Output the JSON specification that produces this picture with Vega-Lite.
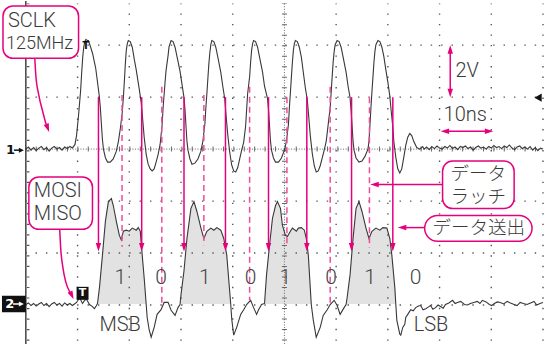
{
"$schema":"https://vega.github.io/schema/vega-lite/v6.json",
"width":546,"height":347,"padding":0,
"autosize":{"type":"fit","contains":"padding"},
"background":"white",
"config":{"view":{"stroke":null}},
"datasets":{
"ch1":[
{"t":-50.0,"d":0.00},{"t":-49.5,"d":0.04},{"t":-49.0,"d":-0.02},{"t":-48.5,"d":0.03},{"t":-48.0,"d":-0.03},{"t":-47.5,"d":0.02},{"t":-47.0,"d":0.05},{"t":-46.5,"d":-0.01},{"t":-46.0,"d":0.03},{"t":-45.5,"d":-0.04},{"t":-45.0,"d":0.02},{"t":-44.5,"d":0.05},{"t":-44.0,"d":0.00},{"t":-43.5,"d":0.03},{"t":-43.0,"d":-0.02},{"t":-42.5,"d":0.04},{"t":-42.0,"d":0.01},{"t":-41.5,"d":0.05},{"t":-41.0,"d":0.02},{"t":-40.5,"d":0.09},
{"t":-40.2,"d":0.26},{"t":-39.8,"d":0.66},{"t":-39.4,"d":1.14},{"t":-39.2,"d":1.48},{"t":-39.0,"d":1.77},{"t":-38.8,"d":1.97},{"t":-38.6,"d":2.07},{"t":-38.4,"d":2.11},{"t":-38.1,"d":2.09},
{"t":-37.9,"d":2.09},{"t":-37.5,"d":1.97},{"t":-37.1,"d":1.84},{"t":-36.5,"d":1.56},{"t":-36.2,"d":1.33},{"t":-35.8,"d":1.02},{"t":-35.6,"d":0.80},{"t":-35.4,"d":0.49},{"t":-35.2,"d":0.19},{"t":-35.0,"d":0.00},{"t":-34.6,"d":-0.17},{"t":-34.2,"d":-0.25},{"t":-33.7,"d":-0.25},{"t":-33.1,"d":-0.19},{"t":-32.5,"d":-0.04},
{"t":-32.1,"d":0.15},{"t":-31.7,"d":0.42},{"t":-31.35,"d":0.72},{"t":-31.15,"d":0.99},{"t":-30.96,"d":1.29},{"t":-30.77,"d":1.63},{"t":-30.58,"d":1.90},{"t":-30.38,"d":2.03},{"t":-30.19,"d":2.09},
{"t":-29.81,"d":2.07},{"t":-29.42,"d":1.96},{"t":-29.04,"d":1.73},{"t":-28.65,"d":1.52},{"t":-28.08,"d":1.16},{"t":-27.69,"d":0.89},{"t":-27.5,"d":0.68},{"t":-27.12,"d":0.23},{"t":-26.73,"d":-0.10},{"t":-26.35,"d":-0.29},{"t":-25.96,"d":-0.38},{"t":-25.58,"d":-0.42},{"t":-25.19,"d":-0.38},{"t":-24.81,"d":-0.25},{"t":-24.42,"d":-0.10},
{"t":-24.04,"d":0.09},{"t":-23.65,"d":0.47},{"t":-23.46,"d":0.80},{"t":-23.27,"d":1.04},{"t":-23.08,"d":1.29},{"t":-22.88,"d":1.52},{"t":-22.5,"d":1.80},{"t":-22.31,"d":1.97},{"t":-21.92,"d":2.09},
{"t":-21.54,"d":2.07},{"t":-21.15,"d":1.96},{"t":-20.77,"d":1.78},{"t":-20.19,"d":1.50},{"t":-19.81,"d":1.25},{"t":-19.42,"d":0.99},{"t":-19.23,"d":0.76},{"t":-19.04,"d":0.45},{"t":-18.85,"d":0.15},{"t":-18.65,"d":-0.02},{"t":-18.27,"d":-0.19},{"t":-17.88,"d":-0.29},{"t":-17.31,"d":-0.27},{"t":-16.73,"d":-0.19},{"t":-16.15,"d":-0.04},
{"t":-15.77,"d":0.15},{"t":-15.38,"d":0.49},{"t":-15.19,"d":0.80},{"t":-15.0,"d":1.06},{"t":-14.81,"d":1.35},{"t":-14.62,"d":1.63},{"t":-14.42,"d":1.86},{"t":-14.23,"d":2.01},{"t":-14.04,"d":2.09},
{"t":-13.65,"d":2.07},{"t":-13.27,"d":1.96},{"t":-12.88,"d":1.77},{"t":-12.31,"d":1.48},{"t":-11.92,"d":1.21},{"t":-11.54,"d":0.97},{"t":-11.35,"d":0.72},{"t":-10.96,"d":0.28},{"t":-10.58,"d":-0.06},{"t":-10.19,"d":-0.31},{"t":-9.81,"d":-0.42},{"t":-9.42,"d":-0.44},{"t":-9.04,"d":-0.36},{"t":-8.65,"d":-0.19},{"t":-8.27,"d":-0.02},
{"t":-7.88,"d":0.13},{"t":-7.5,"d":0.45},{"t":-7.31,"d":0.76},{"t":-7.12,"d":1.06},{"t":-6.73,"d":1.39},{"t":-6.54,"d":1.67},{"t":-6.35,"d":1.90},{"t":-6.15,"d":2.03},{"t":-5.96,"d":2.09},
{"t":-5.58,"d":2.07},{"t":-5.19,"d":1.96},{"t":-4.81,"d":1.77},{"t":-4.23,"d":1.48},{"t":-3.85,"d":1.21},{"t":-3.27,"d":0.97},{"t":-3.08,"d":0.76},{"t":-2.88,"d":0.45},{"t":-2.69,"d":0.15},{"t":-2.5,"d":-0.02},{"t":-2.12,"d":-0.17},{"t":-1.73,"d":-0.25},{"t":-1.15,"d":-0.25},{"t":-0.58,"d":-0.17},{"t":0.0,"d":-0.02},
{"t":0.38,"d":0.15},{"t":0.77,"d":0.47},{"t":0.96,"d":0.80},{"t":1.15,"d":1.08},{"t":1.35,"d":1.39},{"t":1.54,"d":1.67},{"t":1.73,"d":1.90},{"t":1.92,"d":2.03},{"t":2.12,"d":2.09},
{"t":2.5,"d":2.07},{"t":2.88,"d":1.96},{"t":3.27,"d":1.77},{"t":3.65,"d":1.48},{"t":4.04,"d":1.18},{"t":4.42,"d":0.95},{"t":4.62,"d":0.72},{"t":5.0,"d":0.26},{"t":5.38,"d":-0.08},{"t":5.77,"d":-0.32},{"t":6.15,"d":-0.44},{"t":6.54,"d":-0.42},{"t":6.92,"d":-0.32},{"t":7.31,"d":-0.17},{"t":7.69,"d":-0.02},
{"t":8.08,"d":0.15},{"t":8.46,"d":0.47},{"t":8.85,"d":0.80},{"t":9.04,"d":1.10},{"t":9.23,"d":1.39},{"t":9.42,"d":1.67},{"t":9.62,"d":1.88},{"t":9.81,"d":2.01},{"t":10.19,"d":2.09},
{"t":10.58,"d":2.07},{"t":10.96,"d":1.96},{"t":11.35,"d":1.77},{"t":11.92,"d":1.48},{"t":12.31,"d":1.21},{"t":12.69,"d":0.99},{"t":12.88,"d":0.76},{"t":13.08,"d":0.45},{"t":13.27,"d":0.15},{"t":13.46,"d":-0.02},{"t":13.85,"d":-0.17},{"t":14.42,"d":-0.25},{"t":15.0,"d":-0.23},{"t":15.58,"d":-0.14},{"t":16.15,"d":0.0},
{"t":16.35,"d":0.15},{"t":16.54,"d":0.47},{"t":16.73,"d":0.80},{"t":16.92,"d":1.10},{"t":17.12,"d":1.39},{"t":17.31,"d":1.67},{"t":17.5,"d":1.88},{"t":17.69,"d":2.01},{"t":18.08,"d":2.09},
{"t":18.46,"d":2.07},{"t":18.85,"d":1.96},{"t":19.23,"d":1.78},{"t":19.62,"d":1.52},{"t":20.0,"d":1.29},{"t":20.38,"d":1.02},{"t":20.58,"d":0.80},{"t":20.96,"d":0.42},{"t":21.15,"d":0.15},{"t":21.54,"d":-0.16},{"t":21.92,"d":-0.38},{"t":22.31,"d":-0.46},{"t":22.69,"d":-0.38},{"t":23.08,"d":-0.16},{"t":23.46,"d":0.07},{"t":23.85,"d":0.23},{"t":24.23,"d":0.30},{"t":24.62,"d":0.26},{"t":25.0,"d":0.15},{"t":25.58,"d":0.03},{"t":26.15,"d":0.0},{"t":26.73,"d":0.05},
{"t":27.0,"d":0.00},{"t":27.5,"d":0.04},{"t":28.0,"d":-0.01},{"t":28.5,"d":0.05},{"t":29.0,"d":0.01},{"t":29.5,"d":0.06},{"t":30.0,"d":0.02},{"t":30.5,"d":0.00},{"t":31.0,"d":0.05},{"t":31.5,"d":0.02},{"t":32.0,"d":0.07},{"t":32.5,"d":0.01},{"t":33.0,"d":0.04},{"t":33.5,"d":-0.01},{"t":34.0,"d":0.05},{"t":34.5,"d":0.03},{"t":35.0,"d":0.06},{"t":35.5,"d":0.01},{"t":36.0,"d":0.04},{"t":36.5,"d":-0.02},{"t":37.0,"d":0.03},{"t":37.5,"d":0.06},{"t":38.0,"d":0.02},{"t":38.5,"d":0.04},{"t":39.0,"d":0.00},{"t":39.5,"d":0.05},{"t":40.0,"d":0.02},{"t":40.5,"d":0.07},{"t":41.0,"d":0.03},{"t":41.5,"d":0.05},{"t":42.0,"d":0.01},{"t":42.5,"d":0.06},{"t":43.0,"d":0.03},{"t":43.5,"d":0.08},{"t":44.0,"d":0.02},{"t":44.5,"d":-0.01},{"t":45.0,"d":0.04},{"t":45.5,"d":0.06},{"t":46.0,"d":0.01},{"t":46.5,"d":0.04},{"t":47.0,"d":0.00},{"t":47.5,"d":0.05},{"t":48.0,"d":-0.02},{"t":48.5,"d":0.03},{"t":49.0,"d":-0.03},{"t":49.5,"d":0.02},{"t":50.0,"d":0.00}
],
"ch2":[
{"t":-50.0,"d":-2.99,"s":0},{"t":-49.5,"d":-2.96,"s":0},{"t":-49.0,"d":-3.01,"s":0},{"t":-48.5,"d":-2.97,"s":0},{"t":-48.0,"d":-3.02,"s":0},{"t":-47.5,"d":-2.98,"s":0},{"t":-47.0,"d":-2.95,"s":0},{"t":-46.5,"d":-3.01,"s":0},{"t":-46.0,"d":-2.97,"s":0},{"t":-45.5,"d":-3.03,"s":0},{"t":-45.0,"d":-2.98,"s":0},{"t":-44.5,"d":-2.95,"s":0},{"t":-44.0,"d":-3.00,"s":0},{"t":-43.5,"d":-2.97,"s":0},{"t":-43.0,"d":-3.02,"s":0},{"t":-42.5,"d":-2.96,"s":0},{"t":-42.0,"d":-3.00,"s":0},{"t":-41.5,"d":-2.97,"s":0},{"t":-41.0,"d":-3.01,"s":0},{"t":-40.6,"d":-2.98,"s":0},
{"t":-40.19,"d":-2.95,"s":0},{"t":-39.62,"d":-2.86,"s":0},{"t":-39.04,"d":-2.97,"s":0},{"t":-38.65,"d":-2.91,"s":0},{"t":-38.27,"d":-2.89,"s":0},{"t":-37.69,"d":-2.99,"s":0},{"t":-37.12,"d":-3.03,"s":0},{"t":-36.73,"d":-3.07,"s":0},{"t":-36.4,"d":-3.02,"s":0},
{"t":-36.15,"d":-2.97,"s":1},{"t":-35.77,"d":-2.67,"s":1},{"t":-35.19,"d":-2.04,"s":1},{"t":-34.62,"d":-1.39,"s":1},{"t":-34.04,"d":-1.01,"s":1},{"t":-33.46,"d":-0.95,"s":1},{"t":-33.08,"d":-1.09,"s":1},{"t":-32.5,"d":-1.39,"s":1},{"t":-31.92,"d":-1.66,"s":1},{"t":-31.54,"d":-1.75,"s":1},{"t":-31.15,"d":-1.58,"s":1},{"t":-30.58,"d":-1.56,"s":1},{"t":-30.0,"d":-1.58,"s":1},{"t":-29.42,"d":-1.52,"s":1},{"t":-28.65,"d":-1.56,"s":1},{"t":-28.27,"d":-1.51,"s":1},{"t":-27.88,"d":-1.58,"s":1},{"t":-27.5,"d":-2.04,"s":1},{"t":-27.12,"d":-2.48,"s":1},{"t":-26.73,"d":-2.99,"s":1},
{"t":-26.54,"d":-3.24,"s":0},{"t":-26.15,"d":-3.48,"s":0},{"t":-25.77,"d":-3.62,"s":0},{"t":-25.19,"d":-3.43,"s":0},{"t":-24.62,"d":-3.18,"s":0},{"t":-23.85,"d":-3.09,"s":0},{"t":-23.27,"d":-2.95,"s":0},{"t":-22.5,"d":-2.95,"s":0},{"t":-21.92,"d":-3.10,"s":0},{"t":-21.15,"d":-3.20,"s":0},{"t":-20.58,"d":-3.05,"s":0},
{"t":-20.19,"d":-2.99,"s":2},{"t":-20.0,"d":-2.80,"s":2},{"t":-19.42,"d":-2.34,"s":2},{"t":-18.85,"d":-1.72,"s":2},{"t":-18.08,"d":-1.14,"s":2},{"t":-17.5,"d":-1.01,"s":2},{"t":-16.92,"d":-1.20,"s":2},{"t":-16.15,"d":-1.52,"s":2},{"t":-15.58,"d":-1.72,"s":2},{"t":-15.0,"d":-1.58,"s":2},{"t":-14.23,"d":-1.52,"s":2},{"t":-13.65,"d":-1.56,"s":2},{"t":-13.08,"d":-1.51,"s":2},{"t":-12.31,"d":-1.56,"s":2},{"t":-11.73,"d":-1.72,"s":2},{"t":-11.15,"d":-2.04,"s":2},{"t":-10.77,"d":-2.51,"s":2},{"t":-10.38,"d":-2.99,"s":2},
{"t":-10.19,"d":-3.27,"s":0},{"t":-9.81,"d":-3.58,"s":0},{"t":-9.23,"d":-3.43,"s":0},{"t":-8.46,"d":-3.18,"s":0},{"t":-7.88,"d":-3.09,"s":0},{"t":-7.31,"d":-2.99,"s":0},{"t":-6.54,"d":-2.91,"s":0},{"t":-5.96,"d":-3.05,"s":0},{"t":-5.38,"d":-3.18,"s":0},{"t":-5.0,"d":-3.09,"s":0},{"t":-4.42,"d":-2.99,"s":0},
{"t":-3.85,"d":-2.97,"s":3},{"t":-3.46,"d":-2.42,"s":3},{"t":-2.88,"d":-1.85,"s":3},{"t":-2.31,"d":-1.33,"s":3},{"t":-1.73,"d":-1.09,"s":3},{"t":-1.35,"d":-1.01,"s":3},{"t":-0.77,"d":-1.14,"s":3},{"t":-0.38,"d":-1.47,"s":3},{"t":0.19,"d":-1.66,"s":3},{"t":0.58,"d":-1.68,"s":3},{"t":1.15,"d":-1.58,"s":3},{"t":1.54,"d":-1.52,"s":3},{"t":2.31,"d":-1.58,"s":3},{"t":2.69,"d":-1.52,"s":3},{"t":3.27,"d":-1.51,"s":3},{"t":3.85,"d":-1.56,"s":3},{"t":4.23,"d":-1.72,"s":3},{"t":4.62,"d":-2.04,"s":3},{"t":5.0,"d":-2.67,"s":3},{"t":5.19,"d":-2.99,"s":3},
{"t":5.58,"d":-3.29,"s":0},{"t":6.15,"d":-3.62,"s":0},{"t":6.92,"d":-3.43,"s":0},{"t":7.5,"d":-3.20,"s":0},{"t":8.27,"d":-3.09,"s":0},{"t":8.85,"d":-2.99,"s":0},{"t":9.62,"d":-2.91,"s":0},{"t":10.19,"d":-3.01,"s":0},{"t":10.77,"d":-3.18,"s":0},{"t":11.54,"d":-3.05,"s":0},
{"t":11.92,"d":-2.99,"s":4},{"t":12.12,"d":-2.86,"s":4},{"t":12.69,"d":-2.42,"s":4},{"t":13.27,"d":-1.72,"s":4},{"t":13.85,"d":-1.14,"s":4},{"t":14.42,"d":-1.01,"s":4},{"t":15.0,"d":-1.20,"s":4},{"t":15.77,"d":-1.52,"s":4},{"t":16.35,"d":-1.72,"s":4},{"t":16.92,"d":-1.58,"s":4},{"t":17.69,"d":-1.52,"s":4},{"t":18.46,"d":-1.56,"s":4},{"t":19.04,"d":-1.51,"s":4},{"t":19.81,"d":-1.52,"s":4},{"t":20.38,"d":-1.72,"s":4},{"t":20.77,"d":-2.04,"s":4},{"t":21.35,"d":-2.67,"s":4},{"t":21.54,"d":-2.99,"s":4},
{"t":21.73,"d":-3.29,"s":0},{"t":22.31,"d":-3.56,"s":0},{"t":22.5,"d":-3.58,"s":0},{"t":22.88,"d":-3.43,"s":0},{"t":23.27,"d":-3.37,"s":0},{"t":23.46,"d":-3.24,"s":0},{"t":23.85,"d":-3.18,"s":0},{"t":24.42,"d":-3.09,"s":0},{"t":24.9,"d":-3.11,"s":0},{"t":25.38,"d":-3.05,"s":0},{"t":25.9,"d":-3.02,"s":0},{"t":26.35,"d":-3.01,"s":0},{"t":26.8,"d":-3.09,"s":0},{"t":27.31,"d":-3.07,"s":0},{"t":27.8,"d":-3.04,"s":0},{"t":28.27,"d":-3.01,"s":0},{"t":28.7,"d":-3.08,"s":0},{"t":29.23,"d":-3.05,"s":0},{"t":29.7,"d":-3.00,"s":0},{"t":30.19,"d":-3.03,"s":0},{"t":30.7,"d":-3.06,"s":0},{"t":31.15,"d":-2.99,"s":0},{"t":31.8,"d":-2.96,"s":0},{"t":32.5,"d":-2.91,"s":0},{"t":33.0,"d":-2.97,"s":0},{"t":33.46,"d":-2.95,"s":0},{"t":34.1,"d":-2.93,"s":0},{"t":34.81,"d":-2.99,"s":0},{"t":35.4,"d":-3.00,"s":0},{"t":35.96,"d":-2.97,"s":0},{"t":36.6,"d":-2.95,"s":0},{"t":37.31,"d":-2.93,"s":0},{"t":37.8,"d":-2.97,"s":0},{"t":38.27,"d":-2.91,"s":0},{"t":39.0,"d":-2.94,"s":0},{"t":39.62,"d":-2.99,"s":0},{"t":40.1,"d":-3.01,"s":0},{"t":40.58,"d":-2.97,"s":0},{"t":41.2,"d":-2.94,"s":0},{"t":41.73,"d":-2.95,"s":0},{"t":42.4,"d":-2.98,"s":0},{"t":43.08,"d":-2.93,"s":0},{"t":43.7,"d":-2.96,"s":0},{"t":44.42,"d":-2.99,"s":0},{"t":45.0,"d":-3.01,"s":0},{"t":45.58,"d":-2.95,"s":0},{"t":46.2,"d":-2.97,"s":0},{"t":46.92,"d":-2.99,"s":0},{"t":47.6,"d":-2.96,"s":0},{"t":48.27,"d":-2.93,"s":0},{"t":48.8,"d":-3.00,"s":0},{"t":49.42,"d":-2.97,"s":0},{"t":50.0,"d":-2.95,"s":0}
],
"vg":[{"t":-40},{"t":-30},{"t":-20},{"t":-10},{"t":10},{"t":20},{"t":30},{"t":40},{"t":50}],
"hg":[{"d":2},{"d":1},{"d":-1},{"d":-2},{"d":-3}],
"solid":[{"t":-35.96},{"t":-27.6},{"t":-19.42},{"t":-11.4},{"t":-3.08},{"t":4.33},{"t":12.98},{"t":20.96}],
"dash":[{"t":-31.4,"d1":1.04,"d2":-1.88},{"t":-23.71,"d1":1.2,"d2":-3.05},{"t":-15.58,"d1":1.04,"d2":-1.85},{"t":-6.73,"d1":1.2,"d2":-2.91},{"t":0.48,"d1":1.0,"d2":-1.88},{"t":8.85,"d1":1.2,"d2":-2.99},{"t":16.44,"d1":1.0,"d2":-1.9}],
"shaft":[{"t1":32.06,"d1":1.86,"t2":32.06,"d2":1.14},{"t1":31.6,"d1":0.345,"t2":39.0,"d2":0.345},{"t1":30.58,"d1":-0.68,"t2":18.0,"d2":-0.68},{"t1":27.12,"d1":-1.51,"t2":23.3,"d2":-1.51}],
"head":[{"t":-35.96,"d":-1.97,"dir":"down"},{"t":-27.6,"d":-1.97,"dir":"down"},{"t":-19.42,"d":-1.97,"dir":"down"},{"t":-11.4,"d":-1.97,"dir":"down"},{"t":-3.08,"d":-1.97,"dir":"down"},{"t":4.33,"d":-1.97,"dir":"down"},{"t":12.98,"d":-1.97,"dir":"down"},{"t":20.96,"d":-1.97,"dir":"down"},
{"t":32.06,"d":2.0,"dir":"up"},{"t":32.06,"d":1.0,"dir":"down"},{"t":30.2,"d":0.345,"dir":"left"},{"t":40.4,"d":0.345,"dir":"right"},{"t":16.6,"d":-0.68,"dir":"left"},{"t":21.92,"d":-1.51,"dir":"left"},{"t":-45.5,"d":0.33,"dir":"sclk"},{"t":-40.77,"d":-2.89,"dir":"mosi"}],
"ptr":[{"id":"a","t":-48.27,"d":1.75},{"id":"a","t":-48.08,"d":1.43},{"id":"a","t":-47.5,"d":1.04},{"id":"a","t":-46.73,"d":0.72},{"id":"a","t":-46.1,"d":0.48},
{"id":"b","t":-43.46,"d":-1.54},{"id":"b","t":-43.27,"d":-1.9},{"id":"b","t":-42.88,"d":-2.25},{"id":"b","t":-42.3,"d":-2.55},{"id":"b","t":-41.5,"d":-2.75}],
"box":[{"t1":-54.42,"t2":-39.81,"d1":2.755,"d2":1.747,"k":"r"},{"t1":-49.42,"t2":-37.12,"d1":-0.536,"d2":-1.544,"k":"r"},{"t1":30.58,"t2":44.42,"d1":-0.231,"d2":-1.144,"k":"r"},{"t1":27.12,"t2":47.88,"d1":-1.278,"d2":-1.772,"k":"p"}],
"lab":[{"t":-53.46,"d":2.47,"txt":"SCLK","k":"L"},{"t":-53.85,"d":2.03,"txt":"125MHz","k":"S"},{"t":-48.46,"d":-0.81,"txt":"MOSI","k":"L"},{"t":-48.46,"d":-1.25,"txt":"MISO","k":"L"},{"t":33.08,"d":1.51,"txt":"2V","k":"L"},{"t":30.77,"d":0.66,"txt":"10ns","k":"L"},{"t":-35.77,"d":-3.39,"txt":"MSB","k":"L"},{"t":25.0,"d":-3.39,"txt":"LSB","k":"L"},
{"t":32.12,"d":-0.47,"txt":"データ","k":"J"},{"t":32.12,"d":-0.93,"txt":"ラッチ","k":"J"},{"t":28.65,"d":-1.525,"txt":"データ送出","k":"J"},
{"t":-31.73,"d":-2.48,"txt":"1","k":"B"},{"t":-23.85,"d":-2.48,"txt":"0","k":"B"},{"t":-15.38,"d":-2.48,"txt":"1","k":"B"},{"t":-6.54,"d":-2.48,"txt":"0","k":"B"},{"t":0.19,"d":-2.48,"txt":"1","k":"B"},{"t":9.04,"d":-2.48,"txt":"0","k":"B"},{"t":16.54,"d":-2.48,"txt":"1","k":"B"},{"t":25.38,"d":-2.48,"txt":"0","k":"B"},
{"t":-54.0,"d":-2.98,"txt":"2","k":"W"},{"t":-39.04,"d":-2.775,"txt":"T","k":"WC"},{"t":-53.85,"d":-0.02,"txt":"1","k":"K"},{"t":-38.4,"d":1.98,"txt":"T","k":"KC"}],
"mk":[{"t1":-54.62,"t2":-50.0,"d1":-2.82,"d2":-3.14},{"t1":-40.19,"t2":-37.88,"d1":-2.65,"d2":-2.9}],
"ms":[{"t1":-52.31,"t2":-51.2,"d":-0.02,"c":"k"},{"t1":-52.5,"t2":-51.2,"d":-2.98,"c":"w"}],
"mh":[{"t":-50.38,"d":-0.02,"c":"k"},{"t":-50.38,"d":-2.98,"c":"w"},{"t":49.04,"d":0.99,"c":"tri"}]
},
"layer":[
{"data":{"name":"ch2"},"transform":[{"filter":"datum.s > 0"}],"mark":{"type":"area","color":"#e2e2e2","opacity":1},
 "encoding":{"x":{"field":"t","type":"quantitative","scale":{"domain":[-55,50],"nice":false,"zero":false},"axis":null},"y":{"field":"d","type":"quantitative","scale":{"domain":[-3.75,2.85],"nice":false,"zero":false},"axis":null},"y2":{"datum":-2.98},"detail":{"field":"s","type":"nominal"}}},
{"data":{"name":"vg"},"mark":{"type":"rule","color":"#555","strokeWidth":1.4,"strokeDash":[1.4,9.115],"strokeDashOffset":0.7},
 "encoding":{"x":{"field":"t","type":"quantitative","scale":{"domain":[-55,50],"nice":false,"zero":false},"axis":null},"y":{"datum":2.8,"type":"quantitative","scale":{"domain":[-3.75,2.85],"nice":false,"zero":false},"axis":null},"y2":{"datum":-3.75}}},
{"data":{"name":"hg"},"mark":{"type":"rule","color":"#555","strokeWidth":1.4,"strokeDash":[1.4,9.0],"strokeDashOffset":0.7},
 "encoding":{"y":{"field":"d","type":"quantitative","scale":{"domain":[-3.75,2.85],"nice":false,"zero":false},"axis":null},"x":{"datum":-50,"type":"quantitative","scale":{"domain":[-55,50],"nice":false,"zero":false},"axis":null},"x2":{"datum":50}}},
{"data":{"values":[{"t":0}]},"mark":{"type":"rule","color":"#666","strokeWidth":1,"strokeDash":[1,1.63]},
 "encoding":{"x":{"field":"t","type":"quantitative","scale":{"domain":[-55,50],"nice":false,"zero":false},"axis":null},"y":{"datum":2.8,"type":"quantitative","scale":{"domain":[-3.75,2.85],"nice":false,"zero":false},"axis":null},"y2":{"datum":-3.75}}},
{"data":{"values":[{"t":0}]},"mark":{"type":"rule","color":"#666","strokeWidth":5,"strokeDash":[1,9.515],"strokeDashOffset":0.5},
 "encoding":{"x":{"field":"t","type":"quantitative","scale":{"domain":[-55,50],"nice":false,"zero":false},"axis":null},"y":{"datum":2.8,"type":"quantitative","scale":{"domain":[-3.75,2.85],"nice":false,"zero":false},"axis":null},"y2":{"datum":-3.75}}},
{"data":{"values":[{"d":0}]},"mark":{"type":"rule","color":"#666","strokeWidth":1,"strokeDash":[1,1.6]},
 "encoding":{"y":{"field":"d","type":"quantitative","scale":{"domain":[-3.75,2.85],"nice":false,"zero":false},"axis":null},"x":{"datum":-50,"type":"quantitative","scale":{"domain":[-55,50],"nice":false,"zero":false},"axis":null},"x2":{"datum":50}}},
{"data":{"values":[{"d":0}]},"mark":{"type":"rule","color":"#666","strokeWidth":5,"strokeDash":[1,9.4],"strokeDashOffset":0.5},
 "encoding":{"y":{"field":"d","type":"quantitative","scale":{"domain":[-3.75,2.85],"nice":false,"zero":false},"axis":null},"x":{"datum":-50,"type":"quantitative","scale":{"domain":[-55,50],"nice":false,"zero":false},"axis":null},"x2":{"datum":50}}},
{"data":{"values":[{"t":-50}]},"mark":{"type":"rule","color":"#222","strokeWidth":1.3},
 "encoding":{"x":{"field":"t","type":"quantitative","scale":{"domain":[-55,50],"nice":false,"zero":false},"axis":null},"y":{"datum":2.85,"type":"quantitative","scale":{"domain":[-3.75,2.85],"nice":false,"zero":false},"axis":null},"y2":{"datum":-3.75}}},
{"data":{"values":[{"t":-49.55}]},"mark":{"type":"rule","color":"#555","strokeWidth":2.5,"strokeDash":[1.2,9.315],"strokeDashOffset":0.6},
 "encoding":{"x":{"field":"t","type":"quantitative","scale":{"domain":[-55,50],"nice":false,"zero":false},"axis":null},"y":{"datum":2.8,"type":"quantitative","scale":{"domain":[-3.75,2.85],"nice":false,"zero":false},"axis":null},"y2":{"datum":-3.75}}},
{"data":{"name":"ch2"},"mark":{"type":"line","color":"#383838","strokeWidth":1.1},
 "encoding":{"x":{"field":"t","type":"quantitative","scale":{"domain":[-55,50],"nice":false,"zero":false},"axis":null},"y":{"field":"d","type":"quantitative","scale":{"domain":[-3.75,2.85],"nice":false,"zero":false},"axis":null}}},
{"data":{"name":"ch1"},"mark":{"type":"line","color":"#383838","strokeWidth":1.1},
 "encoding":{"x":{"field":"t","type":"quantitative","scale":{"domain":[-55,50],"nice":false,"zero":false},"axis":null},"y":{"field":"d","type":"quantitative","scale":{"domain":[-3.75,2.85],"nice":false,"zero":false},"axis":null}}},
{"data":{"name":"dash"},"mark":{"type":"rule","color":"#ef4c9c","strokeWidth":1.5,"strokeDash":[6,4]},
 "encoding":{"x":{"field":"t","type":"quantitative","scale":{"domain":[-55,50],"nice":false,"zero":false},"axis":null},"y":{"field":"d1","type":"quantitative","scale":{"domain":[-3.75,2.85],"nice":false,"zero":false},"axis":null},"y2":{"field":"d2"}}},
{"data":{"name":"solid"},"mark":{"type":"rule","color":"#e6007e","strokeWidth":1.5},
 "encoding":{"x":{"field":"t","type":"quantitative","scale":{"domain":[-55,50],"nice":false,"zero":false},"axis":null},"y":{"datum":1.0,"type":"quantitative","scale":{"domain":[-3.75,2.85],"nice":false,"zero":false},"axis":null},"y2":{"datum":-1.85}}},
{"data":{"name":"shaft"},"mark":{"type":"rule","color":"#e6007e","strokeWidth":1.5},
 "encoding":{"x":{"field":"t1","type":"quantitative","scale":{"domain":[-55,50],"nice":false,"zero":false},"axis":null},"x2":{"field":"t2"},"y":{"field":"d1","type":"quantitative","scale":{"domain":[-3.75,2.85],"nice":false,"zero":false},"axis":null},"y2":{"field":"d2"}}},
{"data":{"name":"ptr"},"mark":{"type":"line","color":"#e6007e","strokeWidth":1.5,"interpolate":"monotone"},
 "encoding":{"x":{"field":"t","type":"quantitative","scale":{"domain":[-55,50],"nice":false,"zero":false},"axis":null},"y":{"field":"d","type":"quantitative","scale":{"domain":[-3.75,2.85],"nice":false,"zero":false},"axis":null},"detail":{"field":"id","type":"nominal"}}},
{"data":{"name":"head"},"transform":[{"filter":"datum.dir == 'down'"}],"mark":{"type":"point","shape":"M-0.32,-1L0.32,-1L0,0Z","filled":true,"color":"#e6007e","opacity":1,"size":289,"angle":0},
 "encoding":{"x":{"field":"t","type":"quantitative","scale":{"domain":[-55,50],"nice":false,"zero":false},"axis":null},"y":{"field":"d","type":"quantitative","scale":{"domain":[-3.75,2.85],"nice":false,"zero":false},"axis":null}}},
{"data":{"name":"head"},"transform":[{"filter":"datum.dir == 'up'"}],"mark":{"type":"point","shape":"M-0.32,-1L0.32,-1L0,0Z","filled":true,"color":"#e6007e","opacity":1,"size":289,"angle":180},
 "encoding":{"x":{"field":"t","type":"quantitative","scale":{"domain":[-55,50],"nice":false,"zero":false},"axis":null},"y":{"field":"d","type":"quantitative","scale":{"domain":[-3.75,2.85],"nice":false,"zero":false},"axis":null}}},
{"data":{"name":"head"},"transform":[{"filter":"datum.dir == 'left'"}],"mark":{"type":"point","shape":"M-0.32,-1L0.32,-1L0,0Z","filled":true,"color":"#e6007e","opacity":1,"size":289,"angle":90},
 "encoding":{"x":{"field":"t","type":"quantitative","scale":{"domain":[-55,50],"nice":false,"zero":false},"axis":null},"y":{"field":"d","type":"quantitative","scale":{"domain":[-3.75,2.85],"nice":false,"zero":false},"axis":null}}},
{"data":{"name":"head"},"transform":[{"filter":"datum.dir == 'right'"}],"mark":{"type":"point","shape":"M-0.32,-1L0.32,-1L0,0Z","filled":true,"color":"#e6007e","opacity":1,"size":289,"angle":270},
 "encoding":{"x":{"field":"t","type":"quantitative","scale":{"domain":[-55,50],"nice":false,"zero":false},"axis":null},"y":{"field":"d","type":"quantitative","scale":{"domain":[-3.75,2.85],"nice":false,"zero":false},"axis":null}}},
{"data":{"name":"head"},"transform":[{"filter":"datum.dir == 'sclk'"}],"mark":{"type":"point","shape":"M-0.32,-1L0.32,-1L0,0Z","filled":true,"color":"#e6007e","opacity":1,"size":289,"angle":340},
 "encoding":{"x":{"field":"t","type":"quantitative","scale":{"domain":[-55,50],"nice":false,"zero":false},"axis":null},"y":{"field":"d","type":"quantitative","scale":{"domain":[-3.75,2.85],"nice":false,"zero":false},"axis":null}}},
{"data":{"name":"head"},"transform":[{"filter":"datum.dir == 'mosi'"}],"mark":{"type":"point","shape":"M-0.32,-1L0.32,-1L0,0Z","filled":true,"color":"#e6007e","opacity":1,"size":289,"angle":335},
 "encoding":{"x":{"field":"t","type":"quantitative","scale":{"domain":[-55,50],"nice":false,"zero":false},"axis":null},"y":{"field":"d","type":"quantitative","scale":{"domain":[-3.75,2.85],"nice":false,"zero":false},"axis":null}}},
{"data":{"name":"box"},"transform":[{"filter":"datum.k == 'r'"}],"mark":{"type":"rect","fill":"white","stroke":"#e6007e","strokeWidth":1.5,"cornerRadius":10},
 "encoding":{"x":{"field":"t1","type":"quantitative","scale":{"domain":[-55,50],"nice":false,"zero":false},"axis":null},"x2":{"field":"t2"},"y":{"field":"d1","type":"quantitative","scale":{"domain":[-3.75,2.85],"nice":false,"zero":false},"axis":null},"y2":{"field":"d2"}}},
{"data":{"name":"box"},"transform":[{"filter":"datum.k == 'p'"}],"mark":{"type":"rect","fill":"white","stroke":"#e6007e","strokeWidth":1.5,"cornerRadius":13},
 "encoding":{"x":{"field":"t1","type":"quantitative","scale":{"domain":[-55,50],"nice":false,"zero":false},"axis":null},"x2":{"field":"t2"},"y":{"field":"d1","type":"quantitative","scale":{"domain":[-3.75,2.85],"nice":false,"zero":false},"axis":null},"y2":{"field":"d2"}}},
{"data":{"name":"lab"},"transform":[{"filter":"datum.k == 'L'"}],"mark":{"type":"text","align":"left","baseline":"middle","font":"Roboto","fontSize":20,"fontWeight":300,"color":"#3a3a3a"},
 "encoding":{"x":{"field":"t","type":"quantitative","scale":{"domain":[-55,50],"nice":false,"zero":false},"axis":null},"y":{"field":"d","type":"quantitative","scale":{"domain":[-3.75,2.85],"nice":false,"zero":false},"axis":null},"text":{"field":"txt"}}},
{"data":{"name":"lab"},"transform":[{"filter":"datum.k == 'S'"}],"mark":{"type":"text","align":"left","baseline":"middle","font":"Roboto","fontSize":18,"fontWeight":300,"color":"#3a3a3a"},
 "encoding":{"x":{"field":"t","type":"quantitative","scale":{"domain":[-55,50],"nice":false,"zero":false},"axis":null},"y":{"field":"d","type":"quantitative","scale":{"domain":[-3.75,2.85],"nice":false,"zero":false},"axis":null},"text":{"field":"txt"}}},
{"data":{"name":"lab"},"transform":[{"filter":"datum.k == 'B'"}],"mark":{"type":"text","align":"center","baseline":"middle","font":"Roboto","fontSize":21,"fontWeight":300,"color":"#444"},
 "encoding":{"x":{"field":"t","type":"quantitative","scale":{"domain":[-55,50],"nice":false,"zero":false},"axis":null},"y":{"field":"d","type":"quantitative","scale":{"domain":[-3.75,2.85],"nice":false,"zero":false},"axis":null},"text":{"field":"txt"}}},
{"data":{"name":"lab"},"transform":[{"filter":"datum.k == 'J'"}],"mark":{"type":"text","align":"left","baseline":"middle","font":"Noto Sans CJK JP","fontSize":18.5,"fontWeight":300,"color":"#3a3a3a"},
 "encoding":{"x":{"field":"t","type":"quantitative","scale":{"domain":[-55,50],"nice":false,"zero":false},"axis":null},"y":{"field":"d","type":"quantitative","scale":{"domain":[-3.75,2.85],"nice":false,"zero":false},"axis":null},"text":{"field":"txt"}}},
{"data":{"name":"mk"},"mark":{"type":"rect","color":"#111"},
 "encoding":{"x":{"field":"t1","type":"quantitative","scale":{"domain":[-55,50],"nice":false,"zero":false},"axis":null},"x2":{"field":"t2"},"y":{"field":"d1","type":"quantitative","scale":{"domain":[-3.75,2.85],"nice":false,"zero":false},"axis":null},"y2":{"field":"d2"}}},
{"data":{"name":"lab"},"transform":[{"filter":"datum.k == 'W'"}],"mark":{"type":"text","align":"left","baseline":"middle","font":"DejaVu Sans","fontSize":13,"fontWeight":"bold","color":"white"},
 "encoding":{"x":{"field":"t","type":"quantitative","scale":{"domain":[-55,50],"nice":false,"zero":false},"axis":null},"y":{"field":"d","type":"quantitative","scale":{"domain":[-3.75,2.85],"nice":false,"zero":false},"axis":null},"text":{"field":"txt"}}},
{"data":{"name":"lab"},"transform":[{"filter":"datum.k == 'WC'"}],"mark":{"type":"text","align":"center","baseline":"middle","font":"DejaVu Sans","fontSize":11,"fontWeight":"bold","color":"white"},
 "encoding":{"x":{"field":"t","type":"quantitative","scale":{"domain":[-55,50],"nice":false,"zero":false},"axis":null},"y":{"field":"d","type":"quantitative","scale":{"domain":[-3.75,2.85],"nice":false,"zero":false},"axis":null},"text":{"field":"txt"}}},
{"data":{"name":"lab"},"transform":[{"filter":"datum.k == 'K'"}],"mark":{"type":"text","align":"left","baseline":"middle","font":"DejaVu Sans","fontSize":13,"fontWeight":"bold","color":"#111"},
 "encoding":{"x":{"field":"t","type":"quantitative","scale":{"domain":[-55,50],"nice":false,"zero":false},"axis":null},"y":{"field":"d","type":"quantitative","scale":{"domain":[-3.75,2.85],"nice":false,"zero":false},"axis":null},"text":{"field":"txt"}}},
{"data":{"name":"lab"},"transform":[{"filter":"datum.k == 'KC'"}],"mark":{"type":"text","align":"center","baseline":"middle","font":"DejaVu Sans","fontSize":10,"fontWeight":"bold","color":"#111"},
 "encoding":{"x":{"field":"t","type":"quantitative","scale":{"domain":[-55,50],"nice":false,"zero":false},"axis":null},"y":{"field":"d","type":"quantitative","scale":{"domain":[-3.75,2.85],"nice":false,"zero":false},"axis":null},"text":{"field":"txt"}}},
{"data":{"name":"ms"},"transform":[{"filter":"datum.c == 'k'"}],"mark":{"type":"rule","color":"#111","strokeWidth":1.5},
 "encoding":{"x":{"field":"t1","type":"quantitative","scale":{"domain":[-55,50],"nice":false,"zero":false},"axis":null},"x2":{"field":"t2"},"y":{"field":"d","type":"quantitative","scale":{"domain":[-3.75,2.85],"nice":false,"zero":false},"axis":null}}},
{"data":{"name":"ms"},"transform":[{"filter":"datum.c == 'w'"}],"mark":{"type":"rule","color":"white","strokeWidth":1.5},
 "encoding":{"x":{"field":"t1","type":"quantitative","scale":{"domain":[-55,50],"nice":false,"zero":false},"axis":null},"x2":{"field":"t2"},"y":{"field":"d","type":"quantitative","scale":{"domain":[-3.75,2.85],"nice":false,"zero":false},"axis":null}}},
{"data":{"name":"mh"},"transform":[{"filter":"datum.c == 'k'"}],"mark":{"type":"point","shape":"M-0.5,-1L0.5,-1L0,0Z","filled":true,"color":"#111","opacity":1,"size":100,"angle":270},
 "encoding":{"x":{"field":"t","type":"quantitative","scale":{"domain":[-55,50],"nice":false,"zero":false},"axis":null},"y":{"field":"d","type":"quantitative","scale":{"domain":[-3.75,2.85],"nice":false,"zero":false},"axis":null}}},
{"data":{"name":"mh"},"transform":[{"filter":"datum.c == 'w'"}],"mark":{"type":"point","shape":"M-0.5,-1L0.5,-1L0,0Z","filled":true,"color":"white","opacity":1,"size":100,"angle":270},
 "encoding":{"x":{"field":"t","type":"quantitative","scale":{"domain":[-55,50],"nice":false,"zero":false},"axis":null},"y":{"field":"d","type":"quantitative","scale":{"domain":[-3.75,2.85],"nice":false,"zero":false},"axis":null}}},
{"data":{"name":"mh"},"transform":[{"filter":"datum.c == 'tri'"}],"mark":{"type":"point","shape":"triangle-left","filled":true,"color":"#111","opacity":1,"size":70},
 "encoding":{"x":{"field":"t","type":"quantitative","scale":{"domain":[-55,50],"nice":false,"zero":false},"axis":null},"y":{"field":"d","type":"quantitative","scale":{"domain":[-3.75,2.85],"nice":false,"zero":false},"axis":null}}}
]
}
